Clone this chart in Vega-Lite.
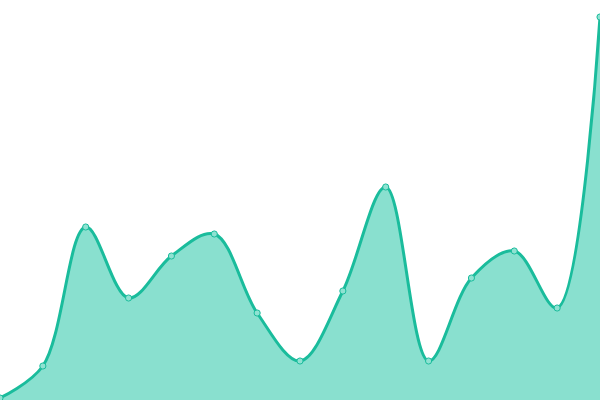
{
  "$schema": "https://vega.github.io/schema/vega-lite/v6.json",
  "width": 600,
  "height": 400,
  "autosize": {"type": "none"},
  "padding": 0,
  "background": "white",
  "config": {"view": {"stroke": null}},
  "data": {
    "values": [
      {"i": 0, "v": 2},
      {"i": 1, "v": 34},
      {"i": 2, "v": 173},
      {"i": 3, "v": 102},
      {"i": 4, "v": 144},
      {"i": 5, "v": 166},
      {"i": 6, "v": 87},
      {"i": 7, "v": 39},
      {"i": 8, "v": 109},
      {"i": 9, "v": 213},
      {"i": 10, "v": 39},
      {"i": 11, "v": 122},
      {"i": 12, "v": 149},
      {"i": 13, "v": 92},
      {"i": 14, "v": 383}
    ]
  },
  "encoding": {
    "x": {"field": "i", "type": "quantitative", "axis": null, "scale": {"domain": [0, 14], "nice": false}},
    "y": {"field": "v", "type": "quantitative", "axis": null, "scale": {"domain": [0, 400], "nice": false}}
  },
  "layer": [
    {"mark": {"type": "area", "interpolate": "catmull-rom", "color": "#89e0cf", "opacity": 1}},
    {"mark": {"type": "line", "interpolate": "catmull-rom", "color": "#1abc9c", "strokeWidth": 3}},
    {"mark": {"type": "point", "filled": true, "fill": "#8fe2d2", "stroke": "#1abc9c", "strokeWidth": 1, "size": 38, "opacity": 1}}
  ]
}
